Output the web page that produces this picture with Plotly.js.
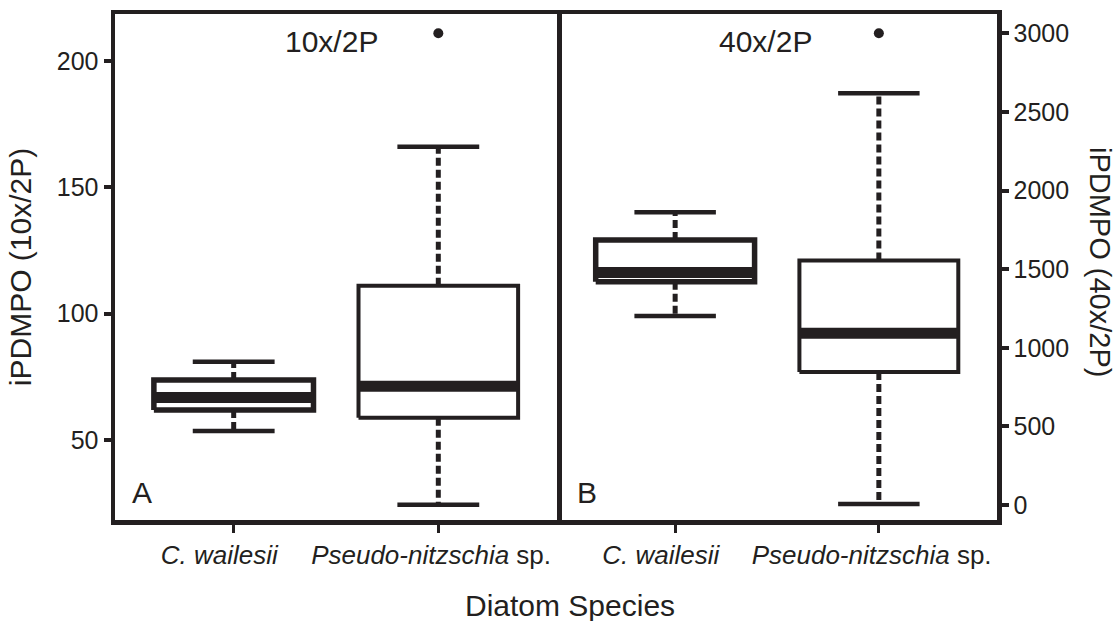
<!DOCTYPE html>
<html>
<head>
<meta charset="utf-8">
<script src="https://cdn.plot.ly/plotly-3.0.1.min.js"></script>
<style>html,body{margin:0;padding:0;background:#fff;}#chart{width:1118px;height:621px;}</style>
</head>
<body>
<div id="chart"></div>
<script>
// ---- data ----
const categories = ['C. wailesii', 'Pseudo-nitzschia sp.'];
const tickLabels = ['<i>C. wailesii</i>&nbsp;&nbsp;&nbsp;&nbsp;', '<i>Pseudo-nitzschia</i> sp.&nbsp;&nbsp;'];
const catIndex = [1, 2];

// Panel A: iPDMPO (10x/2P)
const low10  = [53.6, 24.4];
const q1_10  = [61.9, 58.8];
const med10  = [66.8, 71.3];
const q3_10  = [73.7, 111.0];
const high10 = [81.0, 166.1];
const out10  = [[], [211]];

// Panel B: iPDMPO (40x/2P)
const low40  = [1202, 6];
const q1_40  = [1420, 846];
const med40  = [1478, 1092];
const q3_40  = [1685, 1555];
const high40 = [1862, 2618];
const out40  = [[], [3000]];

// ---- style ----
const INK = '#231f20';
const FONT = 'Liberation Sans, Arial, sans-serif';
const HALF_BOX = 0.39, HALF_CAP = 0.2;
const boxLineW = [5.5, 4];

function panelTraces(low, q1, med, q3, high, out, xa, ya) {
  const tr = [];
  const base = {type: 'scatter', mode: 'lines', xaxis: xa, yaxis: ya, hoverinfo: 'skip', showlegend: false};
  catIndex.forEach((c, i) => {
    // dashed whiskers
    tr.push(Object.assign({}, base, {
      x: [c, c, null, c, c], y: [q3[i], high[i], null, q1[i], low[i]],
      line: {color: INK, width: 5, dash: '8px,4px'}
    }));
    // staples
    tr.push(Object.assign({}, base, {
      x: [c - HALF_CAP, c + HALF_CAP, null, c - HALF_CAP, c + HALF_CAP],
      y: [high[i], high[i], null, low[i], low[i]],
      line: {color: INK, width: 4.5}
    }));
    // box
    tr.push(Object.assign({}, base, {
      x: [c - HALF_BOX, c + HALF_BOX, c + HALF_BOX, c - HALF_BOX, c - HALF_BOX],
      y: [q1[i], q1[i], q3[i], q3[i], q1[i]],
      line: {color: INK, width: boxLineW[i]}
    }));
    // median
    tr.push(Object.assign({}, base, {
      x: [c - HALF_BOX, c + HALF_BOX], y: [med[i], med[i]],
      line: {color: INK, width: 11}
    }));
    // outliers
    if (out[i].length) {
      tr.push(Object.assign({}, base, {
        mode: 'markers', x: out[i].map(() => c), y: out[i],
        marker: {color: INK, size: 10, symbol: 'circle'}
      }));
    }
  });
  return tr;
}

const traces = [].concat(
  panelTraces(low10, q1_10, med10, q3_10, high10, out10, 'x', 'y'),
  panelTraces(low40, q1_40, med40, q3_40, high40, out40, 'x2', 'y2')
);

const split = 442 / 882;
const xCommon = {
  range: [0.42, 2.58], tickvals: catIndex, ticktext: tickLabels,
  showgrid: false, zeroline: false, showline: true, mirror: true,
  linecolor: INK, linewidth: 4.5, ticks: 'outside', ticklen: 8, tickwidth: 3, tickcolor: INK,
  tickfont: {family: FONT, size: 26, color: INK}, fixedrange: true
};
const yCommon = {
  showgrid: false, zeroline: false, showline: true,
  linecolor: INK, linewidth: 4.5, ticks: 'outside', ticklen: 7, tickwidth: 4, tickcolor: INK,
  tickfont: {family: FONT, size: 25, color: INK}, fixedrange: true
};

const layout = {
  width: 1118, height: 621,
  margin: {l: 115, r: 121, t: 14, b: 101},
  paper_bgcolor: '#fff', plot_bgcolor: '#fff',
  showlegend: false,
  font: {family: FONT, color: INK},
  xaxis: Object.assign({}, xCommon, {domain: [0, split], anchor: 'y'}),
  xaxis2: Object.assign({}, xCommon, {domain: [split, 1], anchor: 'y2'}),
  yaxis: Object.assign({}, yCommon, {
    mirror: true,
    range: [18.34, 218.6], tickvals: [50, 100, 150, 200], anchor: 'x',
    title: {text: 'iPDMPO (10x/2P)', font: {family: FONT, size: 30, color: INK}, standoff: 18}
  }),
  yaxis2: Object.assign({}, yCommon, {
    mirror: false,
    range: [-95.4, 3122.7], tickvals: [0, 500, 1000, 1500, 2000, 2500, 3000],
    anchor: 'x2', side: 'right'
  }),
  annotations: [
    {text: '10x/2P', xref: 'paper', yref: 'paper', x: 0.2460, y: 0.9466, xanchor: 'center', yanchor: 'middle', showarrow: false, font: {family: FONT, size: 30, color: INK}},
    {text: '40x/2P', xref: 'paper', yref: 'paper', x: 0.7377, y: 0.9466, xanchor: 'center', yanchor: 'middle', showarrow: false, font: {family: FONT, size: 30, color: INK}},
    {text: 'A', xref: 'paper', yref: 'paper', x: 0.0303, y: 0.0543, xanchor: 'center', yanchor: 'middle', showarrow: false, font: {family: FONT, size: 30, color: INK}},
    {text: 'B', xref: 'paper', yref: 'paper', x: 0.5348, y: 0.0543, xanchor: 'center', yanchor: 'middle', showarrow: false, font: {family: FONT, size: 30, color: INK}},
    {text: 'Diatom Species', xref: 'paper', yref: 'paper', x: 0.5159, y: -0.168, xanchor: 'center', yanchor: 'middle', showarrow: false, font: {family: FONT, size: 30, color: INK}},
    {text: 'iPDMPO (40x/2P)', xref: 'paper', yref: 'paper', x: 1.1168, y: 0.5099, xanchor: 'center', yanchor: 'middle', textangle: 90, showarrow: false, font: {family: FONT, size: 29, color: INK}}
  ]
};

Plotly.newPlot('chart', traces, layout, {displayModeBar: false, staticPlot: true});
</script>
</body>
</html>
